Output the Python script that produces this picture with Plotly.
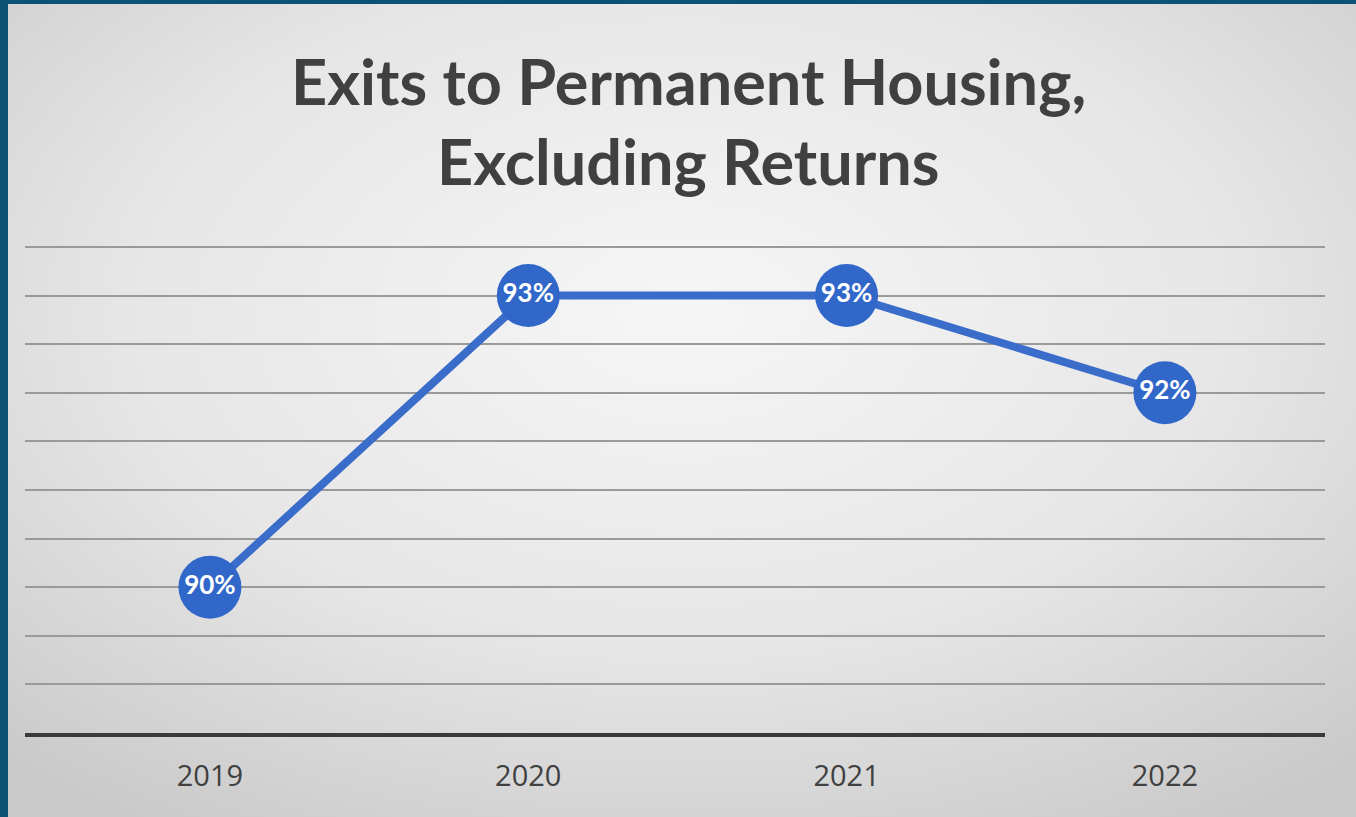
import plotly.graph_objects as go
import urllib.parse

years = ["2019", "2020", "2021", "2022"]
values = [90, 93, 93, 92]
labels = ["90%", "93%", "93%", "92%"]
title_lines = ["Exits to Permanent Housing,", "Excluding Returns"]

W, H = 1356, 817
L, R, T, B = 25, 31, 244, 84
pw, ph = W - L - R, H - T - B

svg = (
    '<svg xmlns="http://www.w3.org/2000/svg" width="1348" height="813" viewBox="0 0 1348 813" preserveAspectRatio="none">'
    '<defs><radialGradient id="g" cx="0.5" cy="0.38" r="0.75">'
    '<stop offset="0" stop-color="#f6f6f6"/><stop offset="0.55" stop-color="#e6e6e6"/>'
    '<stop offset="1" stop-color="#c9c9c9"/></radialGradient></defs>'
    '<rect width="1348" height="813" fill="url(#g)"/></svg>'
)
src = "data:image/svg+xml;charset=utf-8," + urllib.parse.quote(svg)

fig = go.Figure()
fig.add_trace(go.Scatter(
    x=years, y=values, mode="lines+markers+text", text=labels,
    textposition="middle center",
    line=dict(color="#3a6cc9", width=8),
    marker=dict(size=63, color="#3167c9", line=dict(width=0)),
    textfont=dict(family="Lato", size=26, color="white", weight="bold"),
    hoverinfo="skip", cliponaxis=False,
))

def px2paper_x(px):
    return (px - L) / pw

def py2paper_y(py):
    return (H - B - py) / ph

fig.add_layout_image(dict(
    source=src, xref="paper", yref="paper",
    x=px2paper_x(8), y=py2paper_y(4),
    sizex=1348 / pw, sizey=813 / ph,
    sizing="stretch", layer="below", xanchor="left", yanchor="top",
))

for line, ypx in zip(title_lines, [80, 161]):
    fig.add_annotation(
        text="<b>" + line + "</b>", xref="paper", yref="paper",
        x=px2paper_x(688), y=py2paper_y(ypx), showarrow=False,
        xanchor="center", yanchor="middle",
        font=dict(family="Lato", size=63, color="#404040"),
    )

fig.update_layout(
    width=W, height=H,
    margin=dict(l=L, r=R, t=T, b=B),
    paper_bgcolor="#0b5275", plot_bgcolor="rgba(0,0,0,0)",
    showlegend=False,
    xaxis=dict(
        type="category", range=[-0.581, 3.503],
        showgrid=False, showline=True, linecolor="#3a3a3a", linewidth=4,
        ticks="", tickfont=dict(family="Open Sans", size=29, color="#404040"),
        ticklabelstandoff=14,
    ),
    yaxis=dict(
        range=[88.5, 93.53], dtick=0.5, showticklabels=False,
        showgrid=True, gridcolor="#9a9a9a", gridwidth=1.5,
        zeroline=False, showline=False,
    ),
)

fig.write_html(
    "out.html",
    config={"displayModeBar": False},
    post_script="document.body.style.margin='0';document.body.style.overflow='hidden';",
)
